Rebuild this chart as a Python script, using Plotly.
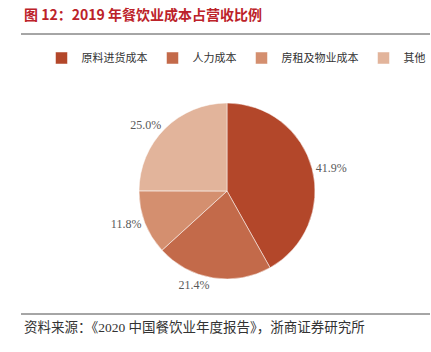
import plotly.graph_objects as go

categories = ["原料进货成本", "人力成本", "房租及物业成本", "其他"]
values = [41.9, 21.4, 11.8, 25.0]
colors = ["#B3472A", "#C36A4A", "#D48F6F", "#E2B49B"]

W, H = 431, 352

fig = go.Figure()
fig.add_trace(go.Pie(
    labels=categories,
    values=values,
    sort=False,
    direction="clockwise",
    rotation=0,
    marker=dict(colors=colors, line=dict(color="white", width=0.5)),
    textposition="outside",
    texttemplate="%{value:.1f}%",
    textfont=dict(family="Liberation Serif", size=12, color="#595959"),
    outsidetextfont=dict(family="Liberation Serif", size=12, color="#595959"),
    hoverinfo="label+value",
    domain=dict(x=[(227 - 130) / W, (227 + 130) / W], y=[1 - (191 + 88) / H, 1 - (191 - 88) / H]),
    automargin=False,
    showlegend=True,
))

fig.add_annotation(
    text="<b>图 12：2019 年餐饮业成本占营收比例</b>",
    xref="paper", yref="paper", x=22 / W, y=1 - 14 / H,
    xanchor="left", yanchor="middle", showarrow=False,
    font=dict(family="Noto Sans CJK SC", size=14, color="#BC2229"),
)
fig.add_annotation(
    text="资料来源：《2020 中国餐饮业年度报告》，浙商证券研究所",
    xref="paper", yref="paper", x=22 / W, y=1 - 327 / H,
    xanchor="left", yanchor="middle", showarrow=False,
    font=dict(family="Liberation Serif, Noto Sans CJK SC", size=13.5, color="#333333"),
)
fig.add_shape(type="line", xref="paper", yref="paper",
              x0=21 / W, x1=430 / W, y0=1 - 34 / H, y1=1 - 34 / H,
              line=dict(color="#4D4D4D", width=1))
fig.add_shape(type="line", xref="paper", yref="paper",
              x0=21 / W, x1=430 / W, y0=1 - 314 / H, y1=1 - 314 / H,
              line=dict(color="#4D4D4D", width=1))

fig.update_layout(
    width=W, height=H,
    margin=dict(l=0, r=0, t=0, b=0),
    paper_bgcolor="white",
    plot_bgcolor="white",
    legend=dict(
        orientation="h", x=236 / W, xanchor="center", y=1 - 58 / H, yanchor="middle",
        font=dict(family="Noto Sans CJK SC", size=11, color="#333333"),
        itemwidth=30, traceorder="normal",
    ),
)

fig.write_html("out.html")
